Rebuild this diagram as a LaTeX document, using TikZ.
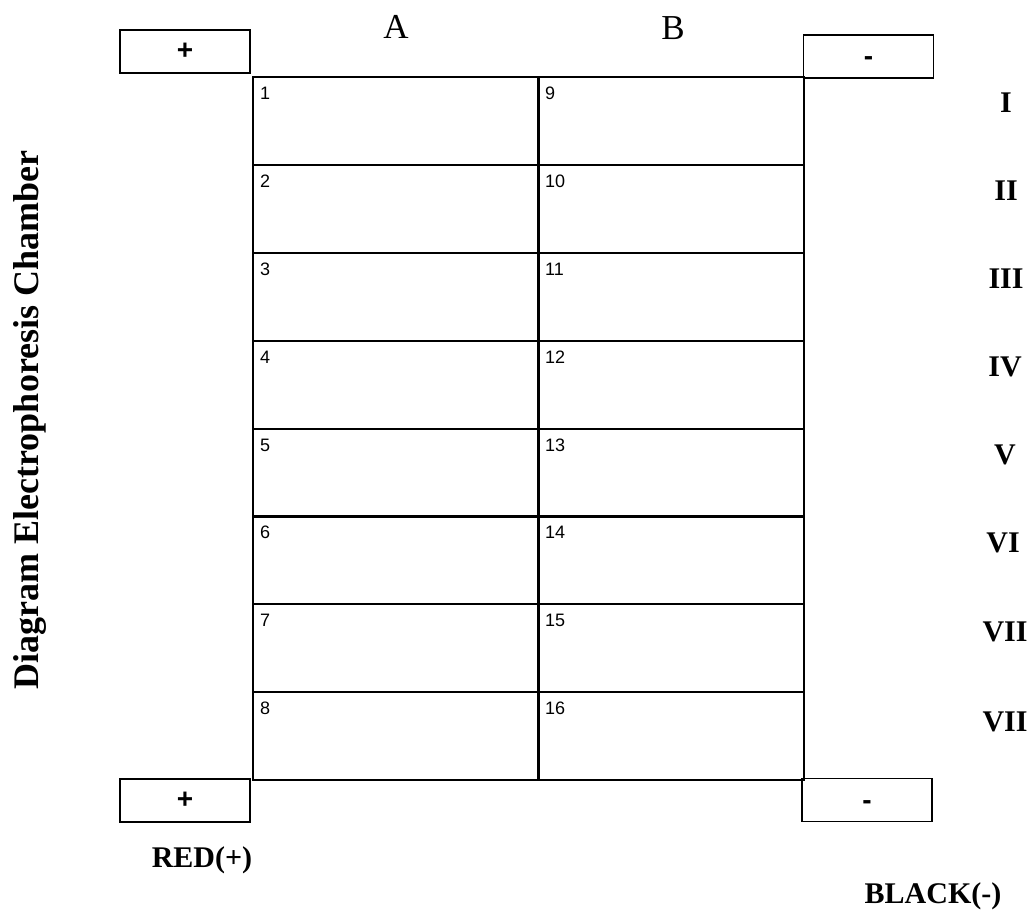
\documentclass[tikz,border=0pt]{standalone}
\usepackage{fontspec}
\setmainfont{Liberation Serif}
\newfontfamily\sansf{Liberation Sans}
\usetikzlibrary{calc}
\begin{document}
\begin{tikzpicture}[x=1pt,y=-1pt,
  cellA/.style={draw,line width=2.2pt,minimum width=286pt,minimum height=87.875pt,anchor=north west,inner sep=0pt},
  cellB/.style={draw,line width=2.2pt,minimum width=266pt,minimum height=87.875pt,anchor=north west,inner sep=0pt},
  num/.style={font=\sansf\fontsize{18}{18}\selectfont,anchor=base west,inner sep=0pt},
  elbox/.style={draw,line width=1.5pt,minimum width=130pt,minimum height=43pt,inner sep=0pt,font=\sansf\bfseries\fontsize{28}{28}\selectfont},
  minusbox/.style={elbox,text height=18pt,text depth=0pt},
  colhead/.style={font=\fontsize{35}{35}\selectfont,anchor=base,inner sep=0pt},
  roman/.style={font=\bfseries\fontsize{30}{30}\selectfont,anchor=base,inner sep=0pt},
  bottomlbl/.style={font=\bfseries\fontsize{30}{30}\selectfont,anchor=base,inner sep=0pt}
]
\useasboundingbox (0,0) rectangle (1036,915);
% cells
\foreach \i in {1,...,8}{
  \node[cellA] (c\i) at (252,{76+87.875*(\i-1)}) {};
  \pgfmathtruncatemacro{\j}{\i+8}
  \node[cellB] (c\j) at (537,{76+87.875*(\i-1)}) {};
}
\foreach \i in {1,...,16}{
  \node[num] (n\i) at ($(c\i.north west)+(8,23.5)$) {\i};
}
% electrode boxes
\node[elbox] (tp) at (185,51.5) {+};
\node[minusbox] (tm) at (868.5,56.5) {-};
\node[elbox] (bp) at (185,800.5) {+};
\node[minusbox] (bm) at (867,800) {-};
% column headers
\node[colhead] (hA) at (396,39) {A};
\node[colhead] (hB) at (673,40) {B};
% row numerals
\node[roman] (r1) at (1006,113) {I};
\node[roman] (r2) at (1006,200) {II};
\node[roman] (r3) at (1006,288) {III};
\node[roman] (r4) at (1005,376) {IV};
\node[roman] (r5) at (1005,464) {V};
\node[roman] (r6) at (1003,552) {VI};
\node[roman] (r7) at (1005,641) {VII};
\node[roman] (r8) at (1005,731) {VII};
% bottom labels
\node[bottomlbl] (red) at (202,867) {RED(+)};
\node[bottomlbl] (black) at (933,903) {BLACK(-)};
% side title
\node[font=\bfseries\fontsize{36}{36}\selectfont,rotate=90,anchor=base,inner sep=0pt] (title) at (38,420) {Diagram Electrophoresis Chamber};
\end{tikzpicture}
\end{document}
